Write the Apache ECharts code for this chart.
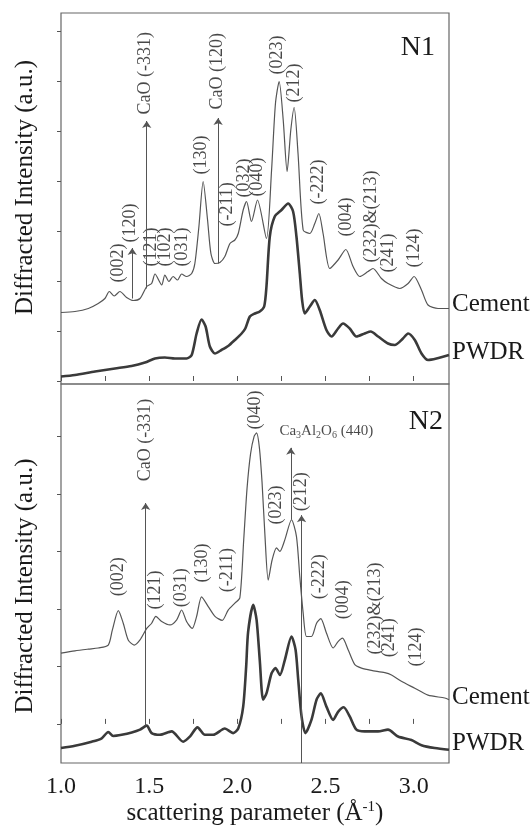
<!DOCTYPE html>
<html><head><meta charset="utf-8">
<script src="https://cdn.jsdelivr.net/npm/echarts@6/dist/echarts.min.js"></script>
<style>html,body{margin:0;padding:0;background:#fff}#c{width:532px;height:828px}</style>
</head><body><div id="c"></div>
<script>
const FONT = "'Liberation Serif','DejaVu Serif',serif";
// x axis (scattering parameter, Å^-1)
const xTicks = [1.0, 1.25, 1.5, 1.75, 2.0, 2.25, 2.5, 2.75, 3.0];
const xTickLabels = [1.0, 1.5, 2.0, 2.5, 3.0];
const n1YTicks = [0, 1, 2, 3, 4, 5, 6, 7];
const n2YTicks = [0, 1, 2, 3, 4, 5];

// N1 panel
const n1Cement = [[1.0,1.37],[1.079,1.39],[1.155,1.45],[1.211,1.55],[1.249,1.65],[1.274,1.79],[1.302,1.70],[1.334,1.79],[1.372,1.67],[1.41,1.61],[1.448,1.65],[1.486,1.89],[1.514,1.95],[1.533,2.14],[1.571,1.92],[1.589,2.12],[1.612,1.99],[1.636,2.09],[1.661,2.02],[1.684,2.14],[1.712,2.09],[1.741,2.15],[1.759,2.35],[1.782,3.09],[1.806,3.99],[1.831,3.22],[1.85,2.55],[1.873,2.35],[1.901,2.37],[1.929,2.49],[1.958,2.75],[1.986,2.82],[2.005,2.95],[2.033,3.42],[2.052,3.59],[2.08,3.19],[2.114,3.62],[2.165,2.85],[2.194,4.22],[2.216,5.55],[2.237,5.99],[2.26,5.22],[2.282,4.19],[2.303,5.02],[2.322,5.47],[2.344,4.55],[2.373,3.02],[2.411,2.95],[2.439,3.15],[2.462,3.35],[2.486,2.95],[2.524,2.25],[2.571,2.42],[2.615,2.63],[2.656,2.29],[2.694,2.09],[2.741,2.19],[2.769,2.25],[2.817,2.05],[2.854,1.95],[2.921,1.85],[2.968,1.95],[3.002,2.09],[3.044,1.82],[3.081,1.52],[3.138,1.45],[3.2,1.45]];
const n1Pwdr = [[1.0,0.09],[1.079,0.12],[1.193,0.19],[1.306,0.25],[1.4,0.30],[1.476,0.37],[1.533,0.45],[1.589,0.47],[1.646,0.45],[1.712,0.45],[1.741,0.52],[1.769,0.95],[1.797,1.23],[1.82,1.09],[1.844,0.69],[1.873,0.55],[1.91,0.62],[1.948,0.70],[1.986,0.82],[2.024,0.95],[2.045,1.05],[2.071,1.29],[2.099,1.35],[2.127,1.39],[2.152,1.49],[2.165,1.89],[2.184,2.89],[2.212,3.29],[2.25,3.42],[2.288,3.55],[2.316,3.39],[2.335,2.89],[2.354,2.15],[2.367,1.62],[2.382,1.35],[2.411,1.49],[2.439,1.62],[2.467,1.42],[2.505,1.02],[2.534,0.89],[2.571,1.05],[2.599,1.15],[2.637,1.05],[2.675,0.89],[2.722,0.95],[2.756,0.99],[2.798,0.89],[2.854,0.75],[2.892,0.72],[2.939,0.85],[2.968,0.95],[3.006,0.82],[3.044,0.55],[3.081,0.42],[3.129,0.45],[3.2,0.52]];
// peak labels: [text, x, intensity at label foot]
const n1Peaks = [['(002)',1.325,1.96],['(120)',1.397,2.76],['(121)',1.514,2.28],['(102)',1.592,2.28],['(031)',1.69,2.28],['(130)',1.797,4.12],['(-211)',1.948,3.08],['(032)',2.042,3.66],['(040)',2.118,3.68],['(023)',2.231,6.12],['(212)',2.326,5.56],['(-222)',2.462,3.52],['(004)',2.619,2.88],['(232)&(213)',2.764,2.36],['(241)',2.858,2.16],['(124)',3.006,2.26],['CaO (-331)',1.482,5.32],['CaO (120)',1.89,5.42]];
// arrows: [x, from, to]
const n1Arrows = [[1.486,1.85,5.2],[1.891,2.35,5.26],[1.404,1.65,2.66]];

// N2 panel
const n2Cement = [[1.0,1.23],[1.079,1.27],[1.155,1.30],[1.211,1.32],[1.268,1.37],[1.291,1.63],[1.325,1.97],[1.353,1.75],[1.381,1.46],[1.415,1.37],[1.448,1.46],[1.486,1.66],[1.514,1.75],[1.538,1.87],[1.571,1.78],[1.618,1.72],[1.656,1.81],[1.684,1.98],[1.712,1.78],[1.744,1.66],[1.769,1.87],[1.797,2.21],[1.835,2.04],[1.873,1.87],[1.914,1.80],[1.948,1.98],[1.986,2.10],[2.014,2.19],[2.036,3.2],[2.055,4.1],[2.075,4.7],[2.095,5.0],[2.109,5.06],[2.125,4.8],[2.14,4.2],[2.156,3.3],[2.175,2.5],[2.197,2.85],[2.222,3.06],[2.241,3.0],[2.269,3.2],[2.307,3.55],[2.335,3.26],[2.354,2.56],[2.373,1.93],[2.392,1.52],[2.42,1.52],[2.449,1.75],[2.473,1.83],[2.505,1.58],[2.543,1.32],[2.571,1.43],[2.596,1.49],[2.628,1.29],[2.666,1.03],[2.704,0.97],[2.76,0.93],[2.836,0.89],[2.874,0.85],[2.93,0.74],[3.006,0.62],[3.081,0.50],[3.176,0.45],[3.2,0.42]];
const n2Pwdr = [[1.0,-0.42],[1.079,-0.38],[1.174,-0.31],[1.231,-0.25],[1.268,-0.14],[1.296,-0.21],[1.344,-0.19],[1.401,-0.15],[1.448,-0.10],[1.486,-0.03],[1.514,-0.16],[1.561,-0.19],[1.627,-0.13],[1.693,-0.31],[1.731,-0.22],[1.774,-0.06],[1.816,-0.19],[1.863,-0.19],[1.929,-0.08],[1.976,-0.16],[2.005,-0.08],[2.033,0.30],[2.05,1.0],[2.061,1.6],[2.09,2.07],[2.109,1.81],[2.127,1.11],[2.146,0.42],[2.165,0.53],[2.194,0.88],[2.216,0.97],[2.241,0.85],[2.269,1.11],[2.307,1.52],[2.33,1.29],[2.345,0.77],[2.364,0.13],[2.386,-0.16],[2.42,0.07],[2.449,0.42],[2.473,0.53],[2.505,0.30],[2.543,0.07],[2.571,0.21],[2.603,0.29],[2.637,0.13],[2.675,-0.10],[2.722,-0.13],[2.798,-0.13],[2.854,-0.10],[2.911,-0.22],[2.987,-0.28],[3.044,-0.37],[3.119,-0.42],[3.2,-0.45]];
const n2Peaks = [['(002)',1.325,2.21],['(121)',1.537,1.98],['(031)',1.684,2.02],['(130)',1.806,2.45],['(-211)',1.948,2.28],['(040)',2.103,5.11],['(023)',2.222,3.46],['(212)',2.365,3.69],['(-222)',2.467,2.16],['(004)',2.605,1.81],['(232)&(213)',2.783,1.2],['(241)',2.864,1.15],['(124)',3.015,0.99],['CaO (-331)',1.482,4.21]];
const n2Phase = ['Ca', '3', 'Al', '2', 'O', '6', ' (440)'];
const n2PhasePos = [2.507, 5.08];
const n2Arrows = [[1.48,-0.03,3.84],[2.303,3.55,4.8],[2.364,-0.68,3.63]];

const TXT = '#1a1a1a';
function peakSeries(peaks, arrows, gi) {
  return {
    type: 'scatter', xAxisIndex: gi, yAxisIndex: gi, symbolSize: 1, silent: true,
    itemStyle: {color: 'rgba(0,0,0,0)'},
    data: peaks.map(p => ({name: p[0], value: [p[1], p[2]]})),
    label: {show: true, formatter: '{b}', position: [0, 0], rotate: 90, align: 'left', verticalAlign: 'middle',
      fontFamily: FONT, fontSize: 18, color: TXT},
    markLine: {silent: true, symbol: ['none', 'arrow'], symbolSize: 7, animation: false,
      label: {show: false}, lineStyle: {color: '#555', width: 1, type: 'solid'},
      data: arrows.map(a => [{coord: [a[0], a[1]]}, {coord: [a[0], a[2]]}])}
  };
}
function lineSeries(data, gi, name, color, width, off) {
  return {type: 'line', name, xAxisIndex: gi, yAxisIndex: gi, data, showSymbol: false, smooth: 0.25,
    lineStyle: {color, width}, itemStyle: {color},
    endLabel: {show: true, formatter: name, fontFamily: FONT, fontSize: 25, color: TXT, distance: 3, offset: [0, off]}};
}
function xAxis(gi, withLabels) {
  return {type: 'value', gridIndex: gi, min: 1.0, max: 3.2,
    axisLine: {show: false}, splitLine: {show: false},
    axisTick: {show: true, inside: true, length: 5, customValues: xTicks, lineStyle: {color: '#555'}},
    axisLabel: {show: withLabels, customValues: xTickLabels, formatter: v => v.toFixed(1), margin: 12,
      fontFamily: FONT, fontSize: 24, color: TXT},
    name: withLabels ? '{n|scattering parameter (Å}{s|-1}{n|)}' : '', nameLocation: 'middle', nameGap: 37,
    nameTextStyle: {rich: {n: {fontFamily: FONT, fontSize: 25, color: TXT}, s: {fontFamily: FONT, fontSize: 15, color: TXT, padding: [0, 0, 12, 0]}}}};
}
function yAxis(gi, min, max, ticks, pad) {
  return {type: 'value', gridIndex: gi, min, max, axisLine: {show: false}, splitLine: {show: false},
    axisTick: {show: true, inside: false, length: 4, customValues: ticks, lineStyle: {color: '#555'}},
    axisLabel: {show: false},
    name: 'Diffracted Intensity (a.u.)', nameLocation: 'middle', nameRotate: 90, nameGap: 23,
    nameTextStyle: {fontFamily: FONT, fontSize: 25, color: TXT, padding: pad}};
}

const chart = echarts.init(document.getElementById('c'), null, {renderer: 'canvas'});
chart.setOption({
  animation: false,
  backgroundColor: '#fff',
  title: [
    {text: 'N1', right: 97, top: 34, padding: 0, textStyle: {fontFamily: FONT, fontSize: 28, fontWeight: 'normal', color: TXT}},
    {text: 'N2', right: 89, top: 408, padding: 0, textStyle: {fontFamily: FONT, fontSize: 28, fontWeight: 'normal', color: TXT}}
  ],
  grid: [
    {left: 61, top: 13, width: 388, height: 371, show: true, borderColor: '#666', borderWidth: 1.2, backgroundColor: 'transparent'},
    {left: 61, top: 384, width: 388, height: 379, show: true, borderColor: '#666', borderWidth: 1.2, backgroundColor: 'transparent'}
  ],
  xAxis: [xAxis(0, false), xAxis(1, true)],
  yAxis: [yAxis(0, -0.06, 7.36, n1YTicks, [0, 0, 0, 22]), yAxis(1, -0.68, 5.91, n2YTicks, [0, 25, 0, 0])],
  series: [
    lineSeries(n1Cement, 0, 'Cement', '#555', 1.2, -4),
    lineSeries(n1Pwdr, 0, 'PWDR', '#3a3a3a', 2.6, -3),
    peakSeries(n1Peaks, n1Arrows, 0),
    lineSeries(n2Cement, 1, 'Cement', '#555', 1.2, -2),
    lineSeries(n2Pwdr, 1, 'PWDR', '#3a3a3a', 2.6, -6),
    peakSeries(n2Peaks, n2Arrows, 1),
    {type: 'scatter', xAxisIndex: 1, yAxisIndex: 1, symbolSize: 1, silent: true, itemStyle: {color: 'rgba(0,0,0,0)'},
      data: [{value: n2PhasePos}],
      label: {show: true, position: [0, 0], align: 'center', verticalAlign: 'middle',
        formatter: '{n|' + n2Phase[0] + '}{s|' + n2Phase[1] + '}{n|' + n2Phase[2] + '}{s|' + n2Phase[3] + '}{n|' + n2Phase[4] + '}{s|' + n2Phase[5] + '}{n|' + n2Phase[6] + '}',
        rich: {n: {fontFamily: FONT, fontSize: 15, color: TXT}, s: {fontFamily: FONT, fontSize: 10, color: TXT, padding: [8, 0, 0, 0]}}}}
  ]
});
</script></body></html>
